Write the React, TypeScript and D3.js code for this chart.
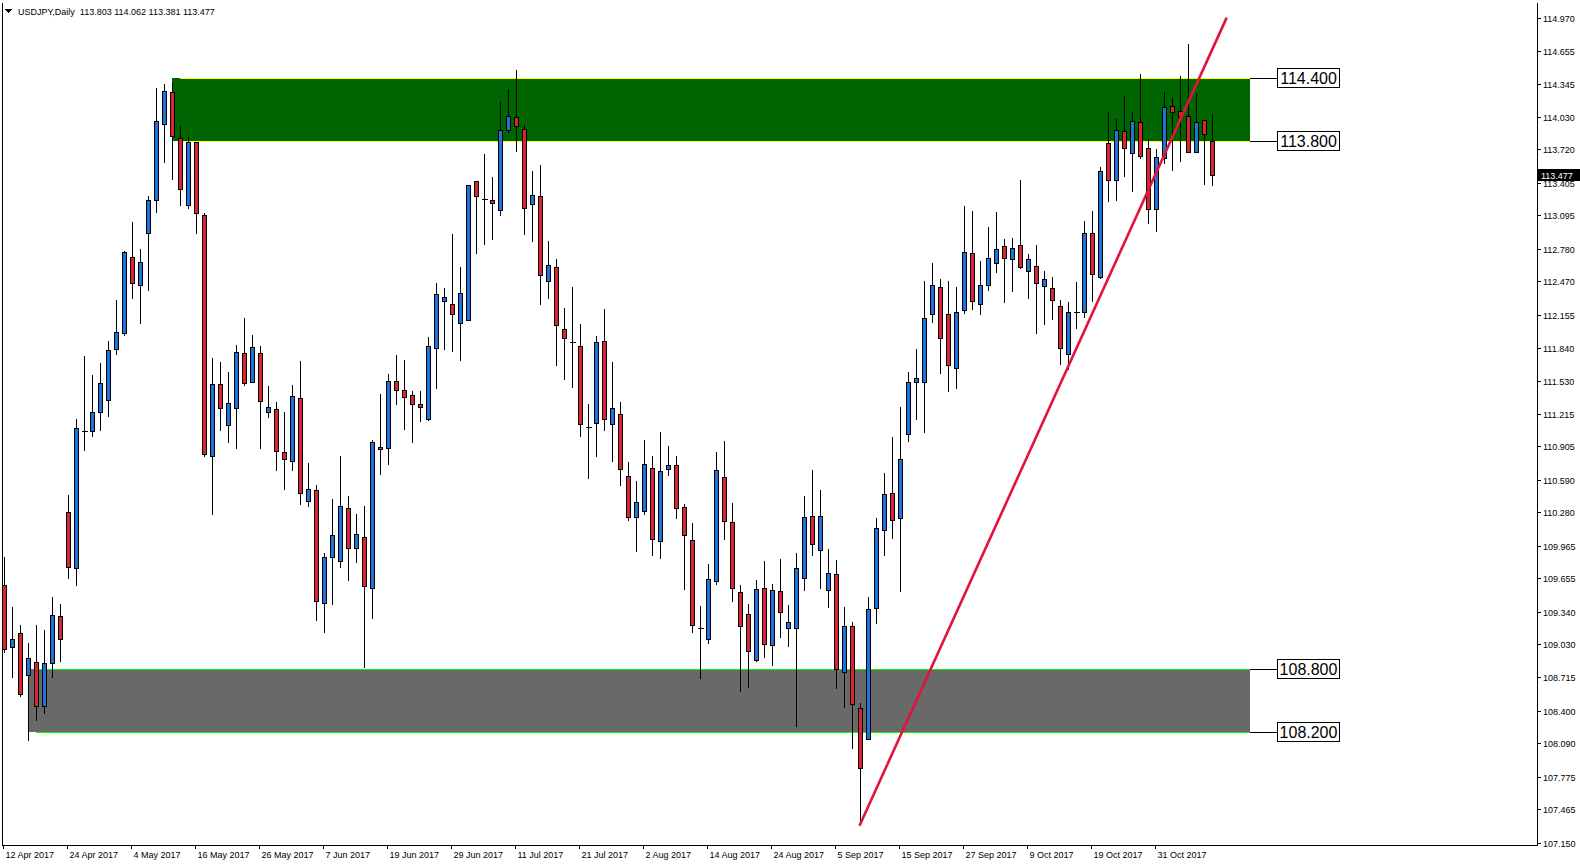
import React from 'react';
import * as d3 from 'd3';

// daily USDJPY bars (bar 0 = 12 Apr 2017)
const opens = [
  109.596, 109.004, 109.133, 108.738, 108.858, 108.446, 108.850, 109.296, 110.288, 109.750,
  111.050, 111.054, 111.233, 111.350, 111.833, 111.983, 112.704, 112.438, 112.929, 113.238,
  113.963, 114.267, 113.832, 113.196, 113.789, 113.103, 110.814, 111.497, 111.112, 111.274,
  111.788, 111.518, 111.788, 111.227, 111.263, 110.857, 110.767, 111.364, 110.390, 110.491,
  109.424, 109.855, 109.820, 110.318, 109.939, 110.042, 109.563, 110.903, 110.888, 111.529,
  111.441, 111.396, 111.304, 111.168, 111.842, 112.287, 112.258, 112.077, 112.107, 113.421,
  113.255, 113.241, 113.148, 113.903, 114.026, 113.912, 113.200, 113.280, 112.470, 112.610,
  112.018, 111.893, 111.855, 111.089, 111.128, 111.903, 111.119, 111.214, 110.621, 110.238,
  110.296, 110.697, 110.012, 110.688, 110.730, 110.331, 110.015, 109.183, 109.078, 109.633,
  110.618, 110.188, 109.527, 109.317, 108.877, 109.566, 109.020, 109.537, 109.183, 109.183,
  109.661, 110.245, 109.920, 109.546, 109.700, 108.763, 109.200, 108.424, 108.136, 109.372,
  110.112, 110.464, 110.224, 111.020, 111.520, 111.512, 112.160, 112.420, 112.160, 111.644,
  112.200, 112.740, 112.256, 112.440, 112.648, 112.804, 112.680, 112.812, 112.565, 112.613,
  112.423, 112.404, 112.234, 111.782, 112.180, 112.183, 112.925, 112.508, 113.778, 113.427,
  113.892, 113.683, 113.977, 113.731, 113.153, 113.636, 114.128, 114.081, 114.034, 113.693,
  113.996, 113.803,
];
const highs = [
  109.862, 109.388, 109.221, 109.050, 109.221, 109.175, 109.488, 109.417, 110.458, 111.179,
  111.771, 111.596, 111.708, 111.917, 112.300, 112.770, 113.040, 112.790, 113.290, 114.313,
  114.354, 114.364, 113.951, 113.843, 113.800, 113.132, 111.752, 111.712, 111.622, 111.874,
  112.136, 111.971, 111.867, 111.490, 111.332, 111.245, 111.497, 111.723, 110.760, 110.552,
  109.909, 110.412, 110.825, 110.443, 110.274, 110.351, 110.980, 111.415, 111.602, 111.783,
  111.735, 111.444, 111.437, 111.948, 112.467, 112.420, 112.924, 112.611, 113.390, 113.428,
  113.686, 113.472, 114.183, 114.304, 114.480, 113.963, 113.528, 113.580, 112.866, 112.691,
  112.231, 112.423, 112.078, 111.313, 111.964, 112.213, 111.715, 111.332, 110.768, 110.586,
  110.978, 110.825, 111.055, 110.921, 110.820, 110.373, 110.188, 109.406, 109.805, 110.858,
  110.966, 110.379, 109.598, 109.425, 109.652, 109.824, 109.607, 109.843, 109.412, 109.901,
  110.449, 110.688, 110.500, 109.942, 109.837, 109.390, 109.252, 108.484, 109.492, 110.232,
  110.664, 111.004, 111.292, 111.620, 111.836, 112.480, 112.656, 112.500, 112.480, 112.424,
  113.192, 113.144, 112.676, 112.996, 113.136, 112.880, 112.890, 113.440, 112.736, 112.824,
  112.578, 112.521, 112.300, 112.281, 112.470, 113.052, 113.143, 113.563, 114.084, 114.015,
  114.233, 114.084, 114.444, 113.825, 113.731, 114.271, 114.214, 114.422, 114.725, 114.261,
  114.005, 114.062,
];
const lows = [
  108.958, 108.721, 108.542, 108.125, 108.313, 108.375, 108.721, 108.875, 109.654, 109.592,
  110.867, 111.008, 111.063, 111.196, 111.779, 111.958, 112.313, 112.071, 112.388, 113.125,
  113.604, 113.440, 113.193, 113.168, 112.927, 110.814, 110.264, 111.062, 110.951, 110.886,
  111.490, 111.518, 110.893, 111.184, 110.678, 110.498, 110.678, 110.358, 110.340, 109.258,
  109.147, 109.410, 109.760, 109.637, 109.814, 108.816, 109.280, 110.645, 110.741, 111.308,
  111.072, 110.951, 111.146, 111.153, 111.459, 111.831, 111.809, 111.724, 112.100, 112.736,
  112.821, 112.876, 113.097, 113.881, 113.707, 112.920, 112.855, 112.260, 112.315, 111.680,
  111.545, 111.469, 111.000, 110.608, 110.819, 111.058, 110.771, 110.541, 110.206, 109.916,
  110.264, 109.880, 109.850, 110.637, 110.230, 109.553, 109.145, 108.711, 109.039, 109.601,
  110.031, 109.438, 108.586, 108.625, 108.867, 108.912, 108.835, 109.103, 109.017, 108.251,
  109.543, 109.878, 109.562, 109.381, 108.618, 108.437, 108.048, 107.336, 108.128, 109.232,
  109.876, 110.036, 109.532, 110.960, 111.164, 111.044, 112.084, 111.604, 111.428, 111.456,
  112.172, 112.204, 112.156, 112.392, 112.560, 112.272, 112.380, 112.600, 112.316, 111.984,
  112.066, 112.117, 111.684, 111.637, 112.032, 112.129, 112.287, 112.499, 113.235, 113.244,
  113.472, 113.329, 113.636, 113.020, 112.950, 113.595, 113.528, 113.614, 113.693, 113.693,
  113.389, 113.381,
];
const closes = [
  108.988, 109.083, 108.563, 108.896, 108.446, 108.850, 109.304, 109.079, 109.763, 111.083,
  111.050, 111.233, 111.508, 111.821, 111.990, 112.750, 112.454, 112.654, 113.242, 113.990,
  114.275, 113.852, 113.347, 113.789, 113.114, 110.832, 111.497, 111.274, 111.317, 111.799,
  111.504, 111.845, 111.339, 111.281, 110.861, 110.785, 111.385, 110.466, 110.502, 109.442,
  109.855, 110.070, 110.338, 109.939, 110.071, 109.582, 110.951, 110.877, 111.529, 111.441,
  111.378, 111.312, 111.282, 111.860, 112.353, 112.324, 112.162, 112.361, 113.384, 113.277,
  113.255, 113.215, 113.903, 114.035, 113.940, 113.162, 113.286, 112.528, 112.623, 112.053,
  111.931, 111.893, 111.118, 111.089, 111.894, 111.166, 111.272, 110.688, 110.238, 110.382,
  110.736, 110.028, 110.672, 110.726, 110.320, 110.063, 109.212, 109.183, 109.652, 110.685,
  110.197, 109.566, 109.202, 108.963, 109.556, 109.030, 109.546, 109.336, 109.240, 109.757,
  110.236, 109.977, 110.245, 109.709, 108.800, 109.204, 108.464, 107.856, 109.360, 110.136,
  110.456, 110.204, 110.784, 111.520, 111.552, 112.120, 112.432, 111.936, 111.680, 112.176,
  112.748, 112.288, 112.432, 112.692, 112.780, 112.696, 112.785, 112.606, 112.679, 112.452,
  112.489, 112.290, 111.836, 112.177, 112.180, 112.925, 112.537, 113.513, 113.427, 113.901,
  113.730, 113.986, 113.661, 113.153, 113.645, 114.119, 114.072, 114.031, 113.693, 113.977,
  113.863, 113.477,
];

const dateLabels = [
  '12 Apr 2017', '24 Apr 2017', '4 May 2017', '16 May 2017', '26 May 2017', '7 Jun 2017',
  '19 Jun 2017', '29 Jun 2017', '11 Jul 2017', '21 Jul 2017', '2 Aug 2017', '14 Aug 2017',
  '24 Aug 2017', '5 Sep 2017', '15 Sep 2017', '27 Sep 2017', '9 Oct 2017', '19 Oct 2017',
  '31 Oct 2017',
];
const dateLabelBars = [0, 8, 16, 24, 32, 40, 48, 56, 64, 72, 80, 88, 96, 104, 112, 120, 128, 136, 144];

const priceTicks = [
  114.97, 114.655, 114.345, 114.03, 113.72, 113.405, 113.095, 112.78, 112.47, 112.155,
  111.84, 111.53, 111.215, 110.905, 110.59, 110.28, 109.965, 109.655, 109.34, 109.03,
  108.715, 108.4, 108.09, 107.775, 107.465, 107.15,
];

// supply / demand boxes: [low, high], first bar, last (future) bar
const supplyZone = [113.8, 114.4];
const demandZone = [108.2, 108.8];
const supplyStart = 21;
const demandStart = 3;
const zoneEnd = 155.8;
const levelLabels = [114.4, 113.8, 108.8, 108.2];

// trend line anchors [bar, price]
const trendFrom = [107, 107.31];
const trendTo = [152.9, 114.97];

const title = 'USDJPY,Daily  113.803 114.062 113.381 113.477';
const lastPrice = 113.477;

const W = 1580;
const H = 866;
const plotRight = 1537;
const plotBottom = 845;
const FONT = "'Liberation Sans', Arial, sans-serif";

export default function App() {
  const x = d3.scaleLinear().domain([0, 1]).range([3.5, 11.5]);
  const y = d3.scaleLinear().domain([107.15, 114.97]).range([842.6, 17.6]);

  const bull = '#1f74dc';
  const bear = '#dc2430';
  const bodyHalf = 2;

  const candles = opens.map((o, i) => {
    const c = closes[i];
    const cx = Math.round(x(i)) + 0.5;
    const top = Math.round(y(Math.max(o, c))) + 0.5;
    const bot = Math.round(y(Math.min(o, c))) + 0.5;
    const yh = Math.round(y(highs[i])) + 0.5;
    const yl = Math.round(y(lows[i])) + 0.5;
    const up = c >= o;
    return (
      <g key={i}>
        <line x1={cx} x2={cx} y1={yh} y2={yl} stroke="#000" strokeWidth={1} />
        {bot - top < 1 ? (
          <line x1={cx - bodyHalf - 1} x2={cx + bodyHalf + 1} y1={top} y2={top} stroke="#000" strokeWidth={1} />
        ) : (
          <rect x={cx - bodyHalf} y={top} width={bodyHalf * 2} height={bot - top}
            fill={up ? bull : bear} stroke="#000" strokeWidth={1} />
        )}
      </g>
    );
  });

  const zoneRect = (z: number[], start: number, fill: string, lineCol: string) => {
    const x0 = x(start);
    const x1 = x(zoneEnd);
    const yTop = Math.round(y(z[1]));
    const yBot = Math.round(y(z[0]));
    return (
      <g>
        <rect x={x0} y={yTop} width={x1 - x0} height={yBot - yTop} fill={fill} />
        <line x1={x(start + 1)} x2={x1} y1={yTop + 0.5} y2={yTop + 0.5} stroke={lineCol} strokeWidth={1.2} />
        <line x1={x(start + 1)} x2={x1} y1={yBot + 0.5} y2={yBot + 0.5} stroke={lineCol} strokeWidth={1.2} />
      </g>
    );
  };

  return (
    <svg width={W} height={H} style={{ position: 'absolute', left: 0, top: 0, background: '#fff' }}
      fontFamily={FONT} shapeRendering="crispEdges">
      <defs>
        <clipPath id="plot">
          <rect x={3} y={3} width={plotRight - 3} height={plotBottom - 3} />
        </clipPath>
      </defs>

      <g clipPath="url(#plot)">
        {zoneRect(supplyZone, supplyStart, '#006400', '#ffff00')}
        {zoneRect(demandZone, demandStart, '#696969', '#00ff00')}
        {candles}
        <line x1={x(trendFrom[0])} y1={y(trendFrom[1])} x2={x(trendTo[0])} y2={y(trendTo[1])}
          stroke="#e0143c" strokeWidth={2.6} shapeRendering="geometricPrecision" />
      </g>

      {levelLabels.map((p) => {
        const yy = Math.round(y(p));
        return (
          <g key={p}>
            <line x1={x(zoneEnd)} x2={1277} y1={yy + 0.5} y2={yy + 0.5} stroke="#000" />
            <rect x={1277.5} y={yy - 9.5} width={62} height={19} fill="#fff" stroke="#000" />
            <text x={1308.5} y={yy + 6} fontSize={16} textAnchor="middle" fill="#000">
              {p.toFixed(3)}
            </text>
          </g>
        );
      })}

      {/* frame */}
      <line x1={2.5} x2={2.5} y1={3} y2={plotBottom + 0.5} stroke="#000" />
      <line x1={2.5} x2={plotRight + 0.5} y1={plotBottom + 0.5} y2={plotBottom + 0.5} stroke="#000" />
      <line x1={plotRight + 0.5} x2={plotRight + 0.5} y1={3} y2={plotBottom + 0.5} stroke="#000" />

      {/* price axis */}
      {priceTicks.map((p) => {
        const yy = Math.round(y(p)) + 0.5;
        return (
          <g key={p}>
            <line x1={plotRight} x2={plotRight + 4} y1={yy} y2={yy} stroke="#000" />
            <text x={plotRight + 6} y={yy + 3.5} fontSize={9} fill="#000">{p.toFixed(3)}</text>
          </g>
        );
      })}
      <rect x={plotRight + 1} y={Math.round(y(lastPrice)) - 6} width={42} height={12} fill="#000" />
      <text x={plotRight + 4} y={Math.round(y(lastPrice)) + 3.5} fontSize={9} fill="#fff">
        {lastPrice.toFixed(3)}
      </text>

      {/* time axis */}
      {dateLabels.map((d, k) => {
        const xx = Math.round(x(dateLabelBars[k])) - 0.5;
        return (
          <g key={d}>
            <line x1={xx} x2={xx} y1={plotBottom} y2={plotBottom + 4} stroke="#000" />
            <text x={xx + 2} y={858} fontSize={9} fill="#000">{d}</text>
          </g>
        );
      })}

      {/* title */}
      <path d="M5,9 L12,9 L8.5,13 Z" fill="#000" />
      <text x={18} y={14.5} fontSize={9} fill="#000" style={{ whiteSpace: 'pre' }}>{title}</text>
    </svg>
  );
}
